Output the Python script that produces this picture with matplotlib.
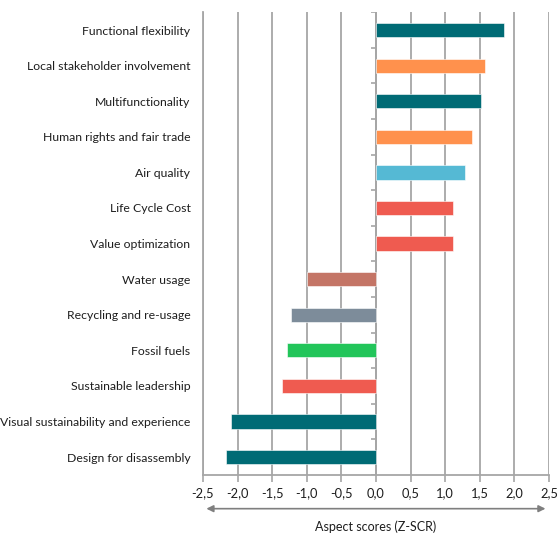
import matplotlib
matplotlib.use("Agg")
import matplotlib.pyplot as plt

plt.rcParams['font.family'] = ['Lato', 'DejaVu Sans']

# aspects, top to bottom
aspects = [
    "Functional flexibility",
    "Local stakeholder involvement",
    "Multifunctionality",
    "Human rights and fair trade",
    "Air quality",
    "Life Cycle Cost",
    "Value optimization",
    "Water usage",
    "Recycling and re-usage",
    "Fossil fuels",
    "Sustainable leadership",
    "Visual sustainability and experience",
    "Design for disassembly",
]
scores = [1.85, 1.58, 1.52, 1.39, 1.29, 1.12, 1.12,
          -1.00, -1.23, -1.29, -1.36, -2.09, -2.16]
bar_colors = ["#006B75", "#FF914D", "#006B75", "#FF914D", "#55B9D4", "#EF5B50", "#EF5B50",
              "#C47566", "#7D8C9A", "#22C55A", "#EF5B50", "#006B75", "#006B75"]

x_ticks = [-2.5, -2.0, -1.5, -1.0, -0.5, 0.0, 0.5, 1.0, 1.5, 2.0, 2.5]
x_tick_labels = ["-2,5", "-2,0", "-1,5", "-1,0", "-0,5", "0,0", "0,5", "1,0", "1,5", "2,0", "2,5"]

grid_col = "#A6A6A6"
text_col = "#1E1E1E"

fig = plt.figure(figsize=(5.59, 5.33), dpi=100)
ax = fig.add_axes([0.363, 0.109, 0.619, 0.868])

ypos = list(range(len(aspects)))
ax.barh(ypos, scores, height=0.4, color=bar_colors, edgecolor="white", linewidth=0.4, zorder=3)

ax.set_xlim(-2.5, 2.5)
ax.set_ylim(len(aspects) - 0.5, -0.5)

# vertical gridlines
ax.set_xticks(x_ticks)
ax.set_xticklabels(x_tick_labels, fontsize=9.3, color=text_col)
ax.grid(axis="x", color=grid_col, linewidth=1.3, zorder=0)
ax.tick_params(axis="x", length=5, width=1.2, color=grid_col, pad=4)

ax.set_yticks(ypos)
ax.set_yticklabels(aspects, fontsize=8.8, color=text_col)
ax.tick_params(axis="y", length=0, pad=9)

for side in ["top", "right"]:
    ax.spines[side].set_visible(False)
for side in ["left", "bottom"]:
    ax.spines[side].set_color(grid_col)
    ax.spines[side].set_linewidth(1.3)

# category axis at zero with boundary ticks
ax.axvline(0, color=grid_col, linewidth=1.3, zorder=2)
boundaries = [i - 0.5 for i in range(len(aspects) + 1)]
ax.hlines(boundaries, -0.07, 0, color=grid_col, linewidth=1.2, zorder=2)

# double headed arrow below axis
ax.annotate("", xy=(0.99, -0.073), xytext=(0.01, -0.073), xycoords="axes fraction",
            arrowprops=dict(arrowstyle="<|-|>", color="#7F7F7F", lw=1.2,
                            mutation_scale=10, shrinkA=0, shrinkB=0),
            annotation_clip=False)
ax.text(0.5, -0.112, "Aspect scores (Z-SCR)", transform=ax.transAxes,
        ha="center", va="center", fontsize=9, color=text_col)

fig.savefig("out.png", dpi=100)
